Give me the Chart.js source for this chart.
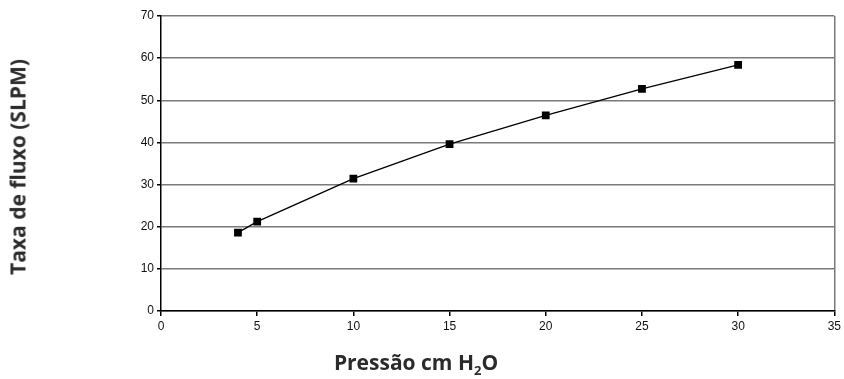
<!DOCTYPE html>
<html lang="pt">
<head>
<meta charset="UTF-8">
<title>Taxa de fluxo x Pressão</title>
<style>
  html, body { margin: 0; padding: 0; background: #fff; }
  .wrap { position: relative; width: 844px; height: 379px; }
  canvas { position: absolute; left: 0; top: 0; }
  .ytitle, .xtitle {
    position: absolute; font-family: "Open Sans", sans-serif; font-weight: 700;
    color: #2b2b2b; font-size: 21px; white-space: nowrap; line-height: 1;
  }
  .ytitle { left: 18px; top: 167px; transform: translate(-50%, -50%) rotate(-90deg); }
  .xtitle { left: 416px; top: 362px; transform: translate(-50%, -50%); }
  .xtitle sub { font-size: 13px; vertical-align: -5px; line-height: 0; }
</style>
</head>
<body>
<div class="wrap">
  <canvas id="chart" width="844" height="379"></canvas>
  <div class="ytitle">Taxa de fluxo (SLPM)</div>
  <div class="xtitle">Pressão cm H<sub>2</sub>O</div>
</div>
<script src="https://cdn.jsdelivr.net/npm/chart.js@4.4.0/dist/chart.umd.min.js"></script>
<script>
  // pressão (cm H2O) e taxa de fluxo (SLPM)
  const pressure = [4, 5, 10, 15, 20, 25, 30]
  const flow = [18.6, 21.2, 31.4, 39.6, 46.4, 52.7, 58.4]

  const gridGray = '#7a7a7a'
  const tickFont = { family: '"Liberation Sans", Arial, sans-serif', size: 12 }

  new Chart(document.getElementById('chart'), {
    type: 'scatter',
    data: {
      datasets: [{
        data: pressure.map((p, i) => ({ x: p, y: flow[i] })),
        showLine: true,
        borderColor: '#000',
        borderWidth: 1.3,
        pointStyle: 'rect',
        pointRadius: 5.5,
        pointHoverRadius: 5.5,
        pointBackgroundColor: '#000',
        pointBorderColor: '#000',
        pointBorderWidth: 0
      }]
    },
    options: {
      responsive: false,
      animation: false,
      layout: { padding: { top: 16, right: 9, left: 0, bottom: 0 } },
      plugins: { legend: { display: false }, tooltip: { enabled: false } },
      scales: {
        x: {
          type: 'linear', min: 0, max: 35,
          ticks: { stepSize: 5, color: '#111', font: tickFont, padding: 3 },
          grid: {
            color: ctx => ctx.tick && ctx.tick.value === 35 ? gridGray : 'transparent',
            lineWidth: 1.5, tickColor: '#000', tickLength: 5
          },
          border: { color: '#000', width: 1.5 },
          afterFit: s => { s.height = 68 }
        },
        y: {
          type: 'linear', min: 0, max: 70,
          ticks: { stepSize: 10, color: '#111', font: tickFont, padding: 3 },
          grid: { color: gridGray, lineWidth: 1.5, tickColor: '#000', tickLength: 4 },
          border: { color: '#000', width: 1.5 },
          afterFit: s => { s.width = 161 }
        }
      }
    }
  })
</script>
</body>
</html>
